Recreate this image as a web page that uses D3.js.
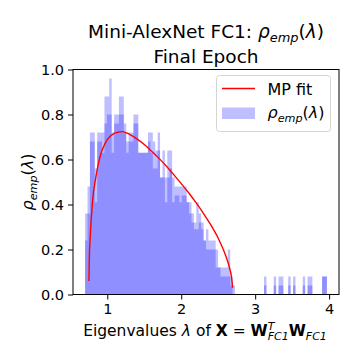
<!DOCTYPE html>
<html>
<head>
<meta charset="utf-8">
<script src="https://cdn.jsdelivr.net/npm/d3@7"></script>
<style>
  body { margin: 0; background: #fff; }
  svg { display: block; font-family: 'DejaVu Sans', sans-serif; }
</style>
</head>
<body>
<div id="root"></div>
<script>
// histogram range and bin count (eigenvalues of the FC1 layer)
const evMin = 0.70;
const evMax = 3.97;
const binCount = 100;

// the two overlaid histograms (density per bin), drawn with alpha 0.25 each
const histA = [
  0.36, 0.48, 0.72, 0.72, 0.56, 0.72, 0.72, 0.72, 0.88, 0.88,
  0.96, 0.72, 0.80, 0.80, 0.88, 0.88, 0.76, 0.68, 0.72, 0.72,
  0.80, 0.80, 0.63, 0.63, 0.63, 0.63, 0.72, 0.72, 0.68, 0.64,
  0.72, 0.52, 0.64, 0.52, 0.64, 0.64, 0.52, 0.48, 0.48, 0.48,
  0.48, 0.48, 0.41, 0.41, 0.36, 0.32, 0.41, 0.36, 0.32, 0.24,
  0.29, 0.24, 0.24, 0.24, 0.20, 0.12, 0.12, 0.12, 0.12, 0.20,
  0.08, 0.04, 0, 0, 0, 0, 0, 0, 0, 0,
  0, 0, 0, 0, 0.08, 0, 0, 0, 0.08, 0,
  0.08, 0.08, 0, 0, 0.08, 0, 0.08, 0, 0, 0,
  0.08, 0, 0.08, 0.08, 0, 0, 0, 0, 0.08, 0.08
];
const histB = [
  0.24, 0.36, 0.68, 0.68, 0.41, 0.68, 0.68, 0.63, 0.76, 0.80,
  0.80, 0.63, 0.76, 0.76, 0.80, 0.80, 0.72, 0.63, 0.68, 0.68,
  0.76, 0.76, 0.63, 0.63, 0.63, 0.63, 0.68, 0.63, 0.56, 0.56,
  0.64, 0.52, 0.52, 0.41, 0.52, 0.56, 0.41, 0.44, 0.44, 0.41,
  0.44, 0.44, 0.41, 0.36, 0.32, 0.29, 0.29, 0.32, 0.29, 0.24,
  0.20, 0.20, 0.20, 0.20, 0.12, 0.12, 0.08, 0.08, 0.08, 0.08,
  0.04, 0, 0, 0, 0, 0, 0, 0, 0, 0,
  0, 0, 0, 0, 0.04, 0, 0, 0, 0.04, 0,
  0.04, 0.04, 0, 0, 0.04, 0, 0.04, 0, 0, 0,
  0.04, 0, 0.04, 0.04, 0, 0, 0, 0, 0.08, 0.08
];

// MP fit
const mpLambda = [0.752, 0.757, 0.77, 0.80, 0.85, 0.90, 0.95, 1.00, 1.10, 1.20,
  1.30, 1.40, 1.50, 1.60, 1.70, 1.80, 1.90, 2.00, 2.10, 2.20,
  2.30, 2.40, 2.50, 2.60, 2.65, 2.68, 2.695];
const mpRho = [0.06, 0.16, 0.26, 0.41, 0.53, 0.61, 0.657, 0.688, 0.717, 0.724,
  0.712, 0.692, 0.667, 0.637, 0.605, 0.570, 0.532, 0.493, 0.452, 0.408,
  0.361, 0.309, 0.250, 0.174, 0.123, 0.077, 0.03];

const xTicks = [1, 2, 3, 4];
const yTicks = [0, 0.2, 0.4, 0.6, 0.8, 1.0];

const width = 360;
const height = 360;
const margin = { top: 69.5, right: 21, bottom: 65.5, left: 73 };
const plotW = width - margin.left - margin.right;
const plotH = height - margin.top - margin.bottom;

const svg = d3.select('#root').append('svg')
  .attr('width', width)
  .attr('height', height);

svg.append('rect')
  .attr('width', width)
  .attr('height', height)
  .attr('fill', '#fff');

const pad = (evMax - evMin) * 0.05;
const x = d3.scaleLinear()
  .domain([evMin - pad, evMax + pad])
  .range([0, plotW]);

const y = d3.scaleLinear()
  .domain([0, 1])
  .range([plotH, 0]);

const chart = svg.append('g')
  .attr('transform', `translate(${margin.left}, ${margin.top})`);

// histograms as step areas so neighbouring bars don't leave seams
const binW = (evMax - evMin) / binCount;
const stepArea = d3.area()
  .x(d => x(d[0]))
  .y0(y(0))
  .y1(d => y(d[1]))
  .curve(d3.curveStepAfter);

[histA, histB].forEach(hist => {
  const pts = hist.map((h, i) => [evMin + i * binW, h]);
  pts.push([evMax, hist[hist.length - 1]]);
  chart.append('path')
    .attr('d', stepArea(pts))
    .attr('fill', 'blue')
    .attr('fill-opacity', 0.25);
});

const mpLine = d3.line()
  .x(d => x(d[0]))
  .y(d => y(d[1]))
  .curve(d3.curveMonotoneX);

chart.append('path')
  .attr('d', mpLine(mpLambda.map((l, i) => [l, mpRho[i]])))
  .attr('fill', 'none')
  .attr('stroke', 'red')
  .attr('stroke-width', 1.4);

// axes
const xAxis = d3.axisBottom(x)
  .tickValues(xTicks)
  .tickFormat(d3.format('d'))
  .tickSize(5)
  .tickPadding(4)
  .tickSizeOuter(0);

const yAxis = d3.axisLeft(y)
  .tickValues(yTicks)
  .tickFormat(d3.format('.1f'))
  .tickSize(5)
  .tickPadding(4)
  .tickSizeOuter(0);

chart.append('g')
  .attr('transform', `translate(0, ${plotH})`)
  .call(xAxis)
  .call(g => g.select('.domain').remove());

chart.append('g')
  .call(yAxis)
  .call(g => g.select('.domain').remove());

chart.selectAll('.tick text')
  .attr('font-family', "'DejaVu Sans', sans-serif")
  .attr('font-size', 14.5)
  .attr('fill', '#000');
chart.selectAll('.tick line')
  .attr('stroke', '#000')
  .attr('stroke-width', 1);

chart.append('rect')
  .attr('width', plotW)
  .attr('height', plotH)
  .attr('fill', 'none')
  .attr('stroke', '#000')
  .attr('stroke-width', 1);

// math-like text helper
function mathText(sel, parts) {
  parts.forEach(p => {
    const t = sel.append('tspan').text(p.t);
    if (p.i) t.attr('font-style', 'italic');
    if (p.b) t.attr('font-weight', 'bold');
    if (p.s) t.attr('font-size', p.s);
    if (p.dx) t.attr('dx', p.dx);
    if (p.dy) t.attr('dy', p.dy);
  });
  return sel;
}

const rhoEmp = fs => [
  { t: 'ρ', i: true },
  { t: 'emp', i: true, s: fs * 0.7, dy: fs * 0.22 },
  { t: '(', dy: -fs * 0.22 },
  { t: 'λ', i: true },
  { t: ')' }
];

// title
const title1 = svg.append('text')
  .attr('x', margin.left + plotW / 2)
  .attr('y', 38)
  .attr('text-anchor', 'middle')
  .attr('font-size', 18.5);
mathText(title1, [{ t: 'Mini-AlexNet FC1: ' }, ...rhoEmp(18.5)]);

svg.append('text')
  .attr('x', margin.left + plotW / 2)
  .attr('y', 63)
  .attr('text-anchor', 'middle')
  .attr('font-size', 18.5)
  .text('Final Epoch');

// axis labels
const xLabel = svg.append('text')
  .attr('x', margin.left + plotW / 2 - 1)
  .attr('y', 336)
  .attr('text-anchor', 'middle')
  .attr('font-size', 15.5);
mathText(xLabel, [
  { t: 'Eigenvalues ' },
  { t: 'λ', i: true },
  { t: ' of ' },
  { t: 'X', b: true },
  { t: ' = ' },
  { t: 'W', b: true },
  { t: 'T', i: true, s: 11, dy: -6 },
  { t: 'FC1', i: true, s: 11, dx: -6.7, dy: 10 },
  { t: 'W', b: true, dy: -4 },
  { t: 'FC1', i: true, s: 11, dy: 4 }
]);

const yLabel = svg.append('text')
  .attr('transform', `translate(33, ${margin.top + plotH / 2}) rotate(-90)`)
  .attr('text-anchor', 'middle')
  .attr('font-size', 16);
mathText(yLabel, rhoEmp(16));

// legend
const legend = svg.append('g')
  .attr('transform', 'translate(216.5, 75.5)');

legend.append('rect')
  .attr('width', 114)
  .attr('height', 56)
  .attr('rx', 3)
  .attr('fill', '#fff')
  .attr('fill-opacity', 0.8)
  .attr('stroke', '#d5d5d5')
  .attr('stroke-width', 1);

legend.append('line')
  .attr('x1', 5.5).attr('x2', 38.5)
  .attr('y1', 13).attr('y2', 13)
  .attr('stroke', 'red')
  .attr('stroke-width', 1.4);

legend.append('text')
  .attr('x', 51)
  .attr('y', 19)
  .attr('font-size', 16)
  .text('MP fit');

legend.append('rect')
  .attr('x', 5.5)
  .attr('y', 32)
  .attr('width', 33)
  .attr('height', 11.5)
  .attr('fill', 'blue')
  .attr('fill-opacity', 0.25);

const legText = legend.append('text')
  .attr('x', 51)
  .attr('y', 42.5)
  .attr('font-size', 16);
mathText(legText, rhoEmp(16));
</script>
</body>
</html>
